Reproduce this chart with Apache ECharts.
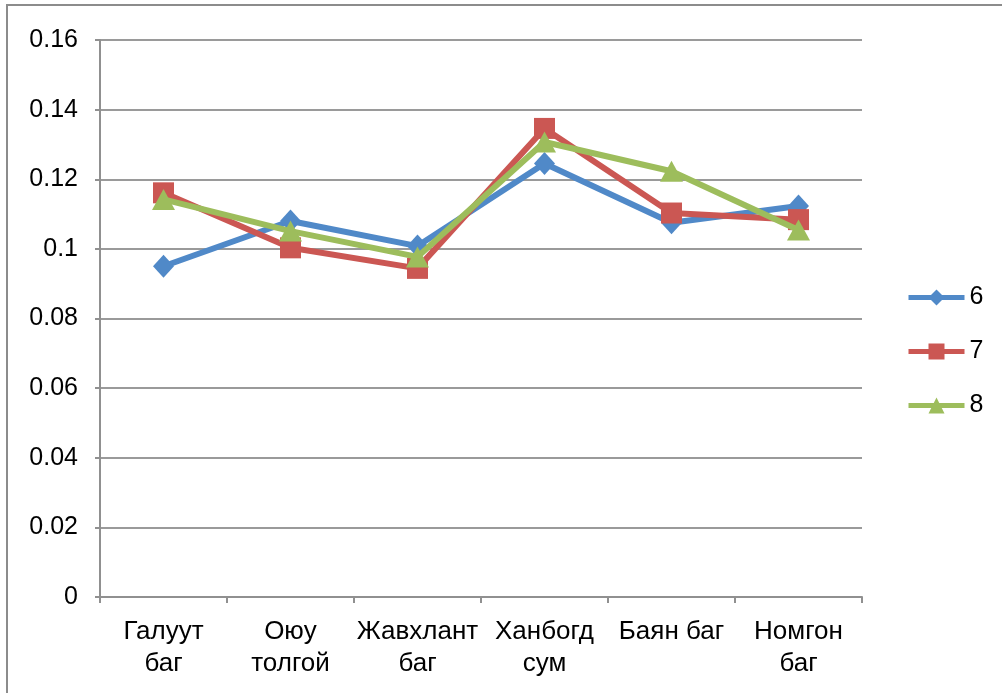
<!DOCTYPE html>
<html>
<head>
<meta charset="utf-8">
<script src="https://cdn.jsdelivr.net/npm/echarts@6/dist/echarts.min.js"></script>
<style>
  html, body { margin: 0; padding: 0; background: #fff; }
  #chart { width: 1002px; height: 693px; }
</style>
</head>
<body>
<div id="chart"></div>
<script>
// Categories (places) along the x axis
const categories = ['Галуут\nбаг', 'Оюу\nтолгой', 'Жавхлант\nбаг', 'Ханбогд\nсум', 'Баян баг', 'Номгон\nбаг'];

// Series values
const seriesNames = ['6', '7', '8'];
const values6 = [0.095, 0.108, 0.1008, 0.1245, 0.1075, 0.1123];
const values7 = [0.1161, 0.1003, 0.0944, 0.1346, 0.1103, 0.1084];
const values8 = [0.1142, 0.1051, 0.0977, 0.1307, 0.1223, 0.1054];

// Y axis range
const yMin = 0;
const yMax = 0.16;
const yStep = 0.02;

const font = '"Liberation Sans", Arial, sans-serif';
const colors = ['#5089C8', '#CB5753', '#9DBD5C'];
const symbols = ['diamond', 'rect', 'triangle'];
const symbolSizes = [[21, 23], 21, [23, 21]];
const seriesData = [values6, values7, values8];

const chart = echarts.init(document.getElementById('chart'), null, { renderer: 'canvas' });

chart.setOption({
  animation: false,
  backgroundColor: '#fff',
  textStyle: { fontFamily: font },
  graphic: [{
    type: 'rect',
    shape: { x: 7, y: 5, width: 1200, height: 1000 },
    style: { fill: 'none', stroke: '#8c8c8c', lineWidth: 2 },
    silent: true
  }],
  grid: { left: 100, right: 140, top: 40, bottom: 96, containLabel: false },
  legend: {
    orient: 'vertical',
    left: 906,
    top: 285,
    padding: 0,
    itemWidth: 56,
    itemHeight: 20,
    itemGap: 29,
    lineStyle: { width: 5 },
    textStyle: { fontFamily: font, fontSize: 25, lineHeight: 24, color: '#000' },
    data: seriesNames
  },
  xAxis: {
    type: 'category',
    data: categories,
    boundaryGap: true,
    axisLine: { lineStyle: { color: '#909090', width: 2 } },
    axisTick: { show: true, length: 6, alignWithLabel: false, lineStyle: { color: '#909090', width: 2 } },
    axisLabel: {
      interval: 0,
      margin: 19,
      fontFamily: font,
      fontSize: 26,
      lineHeight: 32,
      color: '#000'
    },
    splitLine: { show: false }
  },
  yAxis: {
    type: 'value',
    min: yMin,
    max: yMax,
    interval: yStep,
    axisLine: { show: true, lineStyle: { color: '#909090', width: 2 } },
    axisTick: { show: true, length: 5, lineStyle: { color: '#909090', width: 2 } },
    axisLabel: {
      margin: 22,
      fontFamily: font,
      fontSize: 25,
      color: '#000'
    },
    splitLine: { show: true, lineStyle: { color: '#9a9a9a', width: 2 } }
  },
  series: seriesNames.map((name, i) => ({
    name: name,
    type: 'line',
    data: seriesData[i],
    color: colors[i],
    symbol: symbols[i],
    symbolSize: symbolSizes[i],
    showAllSymbol: true,
    lineStyle: { width: 6, color: colors[i] },
    itemStyle: { color: colors[i] },
    z: 2 + i
  }))
});
</script>
</body>
</html>
